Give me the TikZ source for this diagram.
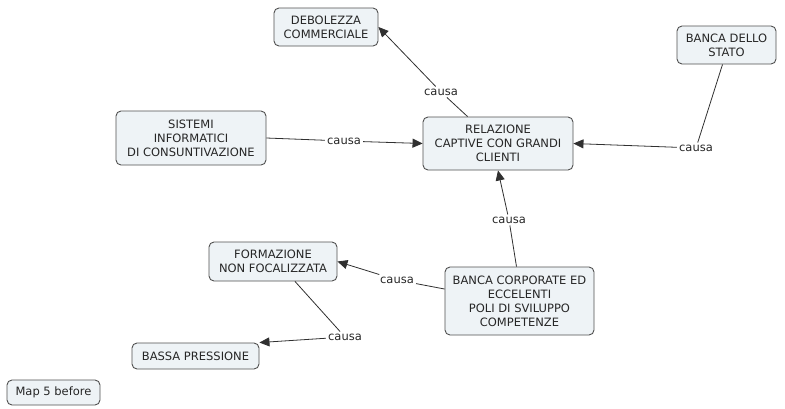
\documentclass[tikz,border=0pt]{standalone}
\usepackage{fontspec}
\setmainfont{DejaVu Sans}
\usetikzlibrary{arrows.meta}
\definecolor{boxfill}{HTML}{EEF3F6}
\definecolor{boxline}{HTML}{505050}
\definecolor{linkcol}{HTML}{303030}
\tikzset{
  concept/.style={draw=boxline, fill=boxfill, rounded corners=5pt, line width=0.9pt,
    align=center, font=\fontsize{11.5}{14}\selectfont, inner xsep=4pt, inner ysep=3pt, text=black!85},
  linklabel/.style={font=\fontsize{11.5}{13}\selectfont, inner sep=2pt, text=black!85},
  plain/.style={draw=linkcol, line width=0.8pt},
  arrowed/.style={draw=linkcol, line width=0.8pt, -{Triangle[length=10pt,width=9pt]}},
}
\begin{document}
\begin{tikzpicture}[x=1pt,y=-1pt]
\useasboundingbox (0,0) rectangle (785,408);
% concepts
\node[concept, minimum width=104pt, minimum height=38pt] (deb) at (326,27) {DEBOLEZZA\\COMMERCIALE};
\node[concept, minimum width=150pt, minimum height=54pt] (sis) at (191,138) {SISTEMI\\INFORMATICI\\DI CONSUNTIVAZIONE};
\node[concept, minimum width=150pt, minimum height=53pt] (rel) at (498,143.5) {RELAZIONE\\CAPTIVE CON GRANDI\\CLIENTI};
\node[concept, minimum width=99pt, minimum height=38pt] (sta) at (726.5,45) {BANCA DELLO\\STATO};
\node[concept, minimum width=128pt, minimum height=39pt] (for) at (273,261.5) {FORMAZIONE\\NON FOCALIZZATA};
\node[concept, minimum width=149pt, minimum height=68pt] (cor) at (519.5,301) {BANCA CORPORATE ED\\ECCELENTI\\POLI DI SVILUPPO\\COMPETENZE};
\node[concept, minimum width=127pt, minimum height=26pt] (bas) at (195.5,356) {BASSA PRESSIONE};
\node[concept, minimum width=93pt, minimum height=25pt] (map) at (53.5,392.5) {Map 5 before};
% link labels
\node[linklabel] (l1) at (441,92) {causa};
\node[linklabel] (l2) at (344,141) {causa};
\node[linklabel] (l3) at (696,148) {causa};
\node[linklabel] (l4) at (509,220) {causa};
\node[linklabel] (l5) at (397,280) {causa};
\node[linklabel] (l6) at (345,337) {causa};
% connectors
\draw[plain] (rel.north west) ++(45,0) coordinate (r1) (r1) -- (l1);
\draw[arrowed] (l1) -- (deb.east);
\draw[plain] (sis.east) -- (l2);
\draw[arrowed] (l2) -- (rel.west);
\draw[plain] (sta.south) ++(-4,0) coordinate (s1) (s1) -- (l3);
\draw[arrowed] (l3) -- (rel.east);
\draw[plain] (cor.north) ++(-3,0) coordinate (c1) (c1) -- (l4);
\draw[arrowed] (l4) -- (rel.south);
\draw[plain] (cor.west) ++(0,-12) coordinate (c2) (c2) -- (l5);
\draw[arrowed] (l5) -- (for.east);
\draw[plain] (for.south) ++(22,0) coordinate (f1) (f1) -- (l6);
\draw[arrowed] (l6) -- (bas.north east);
\end{tikzpicture}
\end{document}
